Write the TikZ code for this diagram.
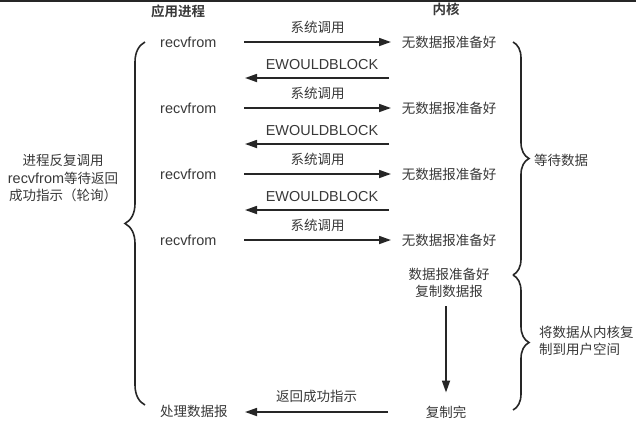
\documentclass[tikz,border=0pt]{standalone}
\usepackage{fontspec}
\setmainfont{Liberation Sans}[Scale=1.07]
\newfontfamily\zh{Noto Sans CJK SC}[BoldFont={Noto Sans CJK SC Bold}]
\usetikzlibrary{arrows.meta,decorations.pathreplacing}
\definecolor{ink}{HTML}{383838}
\definecolor{linegray}{HTML}{262626}
\newcommand\fs{\fontsize{13.5}{17.5}\selectfont}
\tikzset{
  txt/.style={text=ink,font=\fs,inner sep=0pt},
  zhtxt/.style={txt,font=\zh\fs},
  call/.style={draw=linegray,line width=1.7pt,-{Triangle[length=12pt,width=8pt]}},
  brc/.style={draw=linegray,line width=1.6pt,decorate,decoration={brace,amplitude=#1}},
}

\begin{document}
\begin{tikzpicture}[x=1pt,y=1pt]
\useasboundingbox (0,0) rectangle (636,-424);
\fill[black!85] (0,0) rectangle (636,-2);
% column heads
\node[zhtxt,font=\zh\bfseries\fs] (apphead) at (178,-11) {应用进程};
\node[zhtxt,font=\zh\bfseries\fs] (kerhead) at (446,-9) {内核};
% system calls
\foreach \i/\y in {1/42,2/108,3/174,4/240} {
  \node[txt,anchor=west] (app\i) at (160,-\y) {recvfrom};
  \node[zhtxt] (ker\i) at (449,-\y) {无数据报准备好};
  \coordinate (ao\i) at (244,-\y);
  \coordinate (ki\i) at (391,-\y);
  \draw[call] (ao\i) -- node[zhtxt,above=8pt] {系统调用} (ki\i);
}
% error returns
\foreach \i/\y in {1/78,2/144,3/210} {
  \coordinate (ko\i) at (389,-\y);
  \coordinate (ai\i) at (245,-\y);
  \draw[call] (ko\i) -- node[txt,above=8pt,xshift=5pt] {EWOULDBLOCK} (ai\i);
}
% data ready and copied
\node[zhtxt,align=center] (ready) at (449,-283) {数据报准备好\\复制数据报};
\node[zhtxt] (done) at (446,-412) {复制完};
\draw[call,shorten <=8pt,shorten >=13pt] (done |- ready.south) -- (done);
\node[zhtxt,anchor=west] (proc) at (160,-411) {处理数据报};
\coordinate (ro) at (388,-412);
\coordinate (ri) at (245,-412);
\draw[call] (ro) -- node[zhtxt,above=8pt] {返回成功指示} (ri);
% braces
\draw[brc=20] (145,-405) -- (145,-42);
\node[zhtxt,align=center] (poll) at (63,-178) {进程反复调用\\{\rmfamily recvfrom}等待返回\\成功指示（轮询）};
\draw[brc=16] (513,-42) -- (513,-275);
\node[zhtxt,anchor=west] (wait) at (534,-160) {等待数据};
\draw[brc=16] (513,-275) -- (513,-410);
\node[zhtxt,anchor=west,align=left] (copy) at (539,-341) {将数据从内核复\\制到用户空间};
\end{tikzpicture}
\end{document}
